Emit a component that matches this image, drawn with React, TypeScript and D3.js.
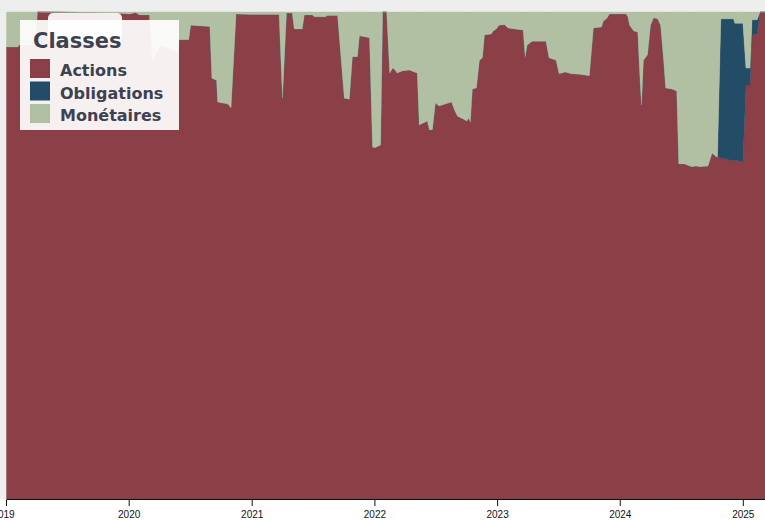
import React from "react";
import * as d3 from "d3";

const dates = [
  "2019-01-01","2019-02-04","2019-02-07","2019-03-28","2019-04-03","2019-08-01","2019-11-16","2020-01-03","2020-01-20","2020-02-01",
  "2020-03-01","2020-03-10","2020-04-05","2020-05-24","2020-05-28","2020-06-26","2020-07-02","2020-08-28","2020-09-03","2020-09-17",
  "2020-09-20","2020-10-21","2020-10-30","2020-11-14","2021-01-01","2021-03-22","2021-04-01","2021-04-13","2021-04-30","2021-05-06",
  "2021-05-30","2021-06-05","2021-06-29","2021-07-05","2021-08-07","2021-08-13","2021-09-12","2021-10-02","2021-10-17","2021-10-26",
  "2021-11-10","2021-11-16","2021-12-16","2021-12-25","2022-01-01","2022-01-18","2022-01-24","2022-02-05","2022-02-14","2022-02-23",
  "2022-03-02","2022-03-08","2022-03-23","2022-04-13","2022-04-28","2022-05-07","2022-05-13","2022-05-25","2022-06-06","2022-06-12",
  "2022-06-21","2022-06-30","2022-07-11","2022-07-29","2022-08-17","2022-08-26","2022-09-04","2022-09-22","2022-10-01","2022-10-07",
  "2022-10-12","2022-10-18","2022-10-30","2022-11-08","2022-11-17","2022-11-23","2022-12-13","2022-12-19","2022-12-28","2023-01-05",
  "2023-01-22","2023-02-01","2023-02-21","2023-03-18","2023-03-24","2023-03-30","2023-04-14","2023-05-25","2023-06-03","2023-06-24",
  "2023-07-03","2023-07-21","2023-08-08","2023-09-02","2023-10-01","2023-10-13","2023-11-06","2023-11-12","2023-11-21","2023-11-30",
  "2024-01-17","2024-01-23","2024-01-29","2024-02-10","2024-02-22","2024-02-28","2024-03-04","2024-03-10","2024-03-22","2024-03-31",
  "2024-04-09","2024-04-21","2024-04-30","2024-05-09","2024-05-15","2024-06-02","2024-06-17","2024-06-23","2024-07-10","2024-08-01",
  "2024-08-13","2024-08-24","2024-09-18","2024-09-30","2024-10-11","2024-10-16","2024-10-26","2024-11-10","2024-11-28","2024-12-03",
  "2024-12-07","2024-12-31","2025-01-09","2025-01-21","2025-01-27","2025-02-11","2025-02-20","2025-03-10"
];

const actions = [
  92.8,92.8,93.2,93.2,100,99.9,99.8,99.6,99.9,99.4,
  99.4,90.1,93.2,91.8,94.3,94.3,97.3,97.0,86.4,86.0,
  81.5,81.1,80.3,99.6,99.5,99.5,82.3,99.8,99.8,96.5,
  96.5,99.4,99.4,99.0,99.0,99.3,99.3,82.3,82.1,90.8,
  90.8,95.1,94.7,72.3,72.1,72.7,100,100,87.5,88.5,
  88.1,87.5,87.9,88.1,87.7,87.5,76.8,77.2,77.6,75.8,
  75.8,81.3,80.7,81.1,81.5,79.8,78.6,78.0,77.6,78.2,
  77.4,84.2,84.4,90.1,90.6,95.3,95.5,96.1,96.5,97.3,
  97.4,96.7,96.5,96.3,90.8,93.2,94.0,94.0,90.6,90.1,
  87.3,87.7,87.3,87.2,86.9,96.7,96.9,98.2,98.6,99.6,
  99.6,99.2,97.3,96.1,95.9,87.1,80.9,90.1,91.2,97.3,
  98.8,98.6,97.3,90.1,84.4,84.2,83.8,68.8,68.8,68.2,
  68.4,68.2,68.4,71.0,70.4,70.2,70.0,69.8,69.4,69.6,
  69.6,69.2,85.0,85.0,95.3,95.5,100,100
];

const obligations = [
  0,0,0,0,0,0,0,0,0,0,
  0,0,0,0,0,0,0,0,0,0,
  0,0,0,0,0,0,0,0,0,0,
  0,0,0,0,0,0,0,0,0,0,
  0,0,0,0,0,0,0,0,0,0,
  0,0,0,0,0,0,0,0,0,0,
  0,0,0,0,0,0,0,0,0,0,
  0,0,0,0,0,0,0,0,0,0,
  0,0,0,0,0,0,0,0,0,0,
  0,0,0,0,0,0,0,0,0,0,
  0,0,0,0,0,0,0,0,0,0,
  0,0,0,0,0,0,0,0,0,0,
  0,0,0,0,0,0,28.6,28.8,29.2,29.0,
  28.1,28.5,3.5,3.5,3.1,2.9,0,0
];

const monetaires = [
  7.2,7.2,6.8,6.8,0,0.1,0.2,0.4,0.1,0.6,
  0.6,9.9,6.8,8.2,5.7,5.7,2.7,3.0,13.6,14.0,
  18.5,18.9,19.7,0.4,0.5,0.5,17.7,0.2,0.2,3.5,
  3.5,0.6,0.6,1.0,1.0,0.7,0.7,17.7,17.9,9.2,
  9.2,4.9,5.3,27.7,27.9,27.3,0,0,12.5,11.5,
  11.9,12.5,12.1,11.9,12.3,12.5,23.2,22.8,22.4,24.2,
  24.2,18.7,19.3,18.9,18.5,20.2,21.4,22.0,22.4,21.8,
  22.6,15.8,15.6,9.9,9.4,4.7,4.5,3.9,3.5,2.7,
  2.6,3.3,3.5,3.7,9.2,6.8,6.0,6.0,9.4,9.9,
  12.7,12.3,12.7,12.8,13.1,3.3,3.1,1.8,1.4,0.4,
  0.4,0.8,2.7,3.9,4.1,12.9,19.1,9.9,8.8,2.7,
  1.2,1.4,2.7,9.9,15.6,15.8,16.2,31.2,31.2,31.8,
  31.6,31.8,31.6,29.0,29.6,29.8,1.4,1.4,1.4,1.4,
  2.3,2.3,11.5,11.5,1.6,1.6,0,0
];

const seriesKeys = ["Actions", "Obligations", "Monétaires"];
const seriesColors = ["#8b3f46", "#234c66", "#b1bfa2"];
const tickYears = ["2019", "2020", "2021", "2022", "2023", "2024", "2025"];

const W = 765;
const H = 520;
const left = 6.5;
const top = 12;
const bottom = 499;

export default function App() {
  const parse = d3.timeParse("%Y-%m-%d");
  const rows = dates.map((d, i) => ({
    date: parse(d) as Date,
    Actions: actions[i],
    Obligations: obligations[i],
    "Monétaires": monetaires[i],
  }));
  const x = d3
    .scaleTime()
    .domain([parse("2019-01-01") as Date, parse("2025-01-01") as Date])
    .range([left, 743.3]);
  const y = d3.scaleLinear().domain([0, 100]).range([bottom, top]);
  const stack = d3.stack<any>().keys(seriesKeys);
  const layers = stack(rows);
  const area = d3
    .area<any>()
    .x((d) => x(d.data.date))
    .y0((d) => y(d[0]))
    .y1((d) => y(d[1]));

  return (
    <div style={{ position: "fixed", left: 0, top: 0, width: W, height: H, background: "#fff" }}>
      <svg width={W} height={H} style={{ display: "block" }}>
        <rect x={0} y={0} width={W} height={bottom} fill="#eeeeee" />
        <g>
          {layers.map((layer, i) => (
            <path key={layer.key} d={area(layer) || ""} fill={seriesColors[i]} stroke={seriesColors[i]} strokeWidth={0.4} />
          ))}
        </g>
        <line x1={left} x2={W} y1={bottom + 0.5} y2={bottom + 0.5} stroke="#111" strokeWidth={1} />
        {tickYears.map((t, i) => {
          const xp = x(parse(t + "-01-01") as Date);
          return (
            <g key={t} transform={`translate(${xp},0)`}>
              <line y1={bottom + 1} y2={bottom + 7} stroke="#111" strokeWidth={1} />
              <text x={i === 0 ? -3 : 0} y={518} textAnchor="middle" fontFamily="Liberation Sans, Arial, sans-serif" fontSize={10} fill="#111">
                {t}
              </text>
            </g>
          );
        })}
        <rect x={48} y={13} width={74} height={30} rx={5} fill="#ffffff" fillOpacity={0.9} />
        <g>
          <rect x={20} y={20} width={159} height={110} fill="#ffffff" fillOpacity={0.92} />
          <text x={33} y={48} fontFamily="DejaVu Sans, Verdana, sans-serif" fontWeight="bold" fontSize={21} fill="#3c4250">
            Classes
          </text>
          {seriesKeys.map((k, i) => (
            <g key={k} transform={`translate(0,${59 + i * 22.5})`}>
              <rect x={30} y={0} width={20} height={19} fill={seriesColors[i]} />
              <text x={60} y={17} fontFamily="DejaVu Sans, Verdana, sans-serif" fontWeight="bold" fontSize={16} fill="#3c4250">
                {k}
              </text>
            </g>
          ))}
        </g>
      </svg>
    </div>
  );
}
